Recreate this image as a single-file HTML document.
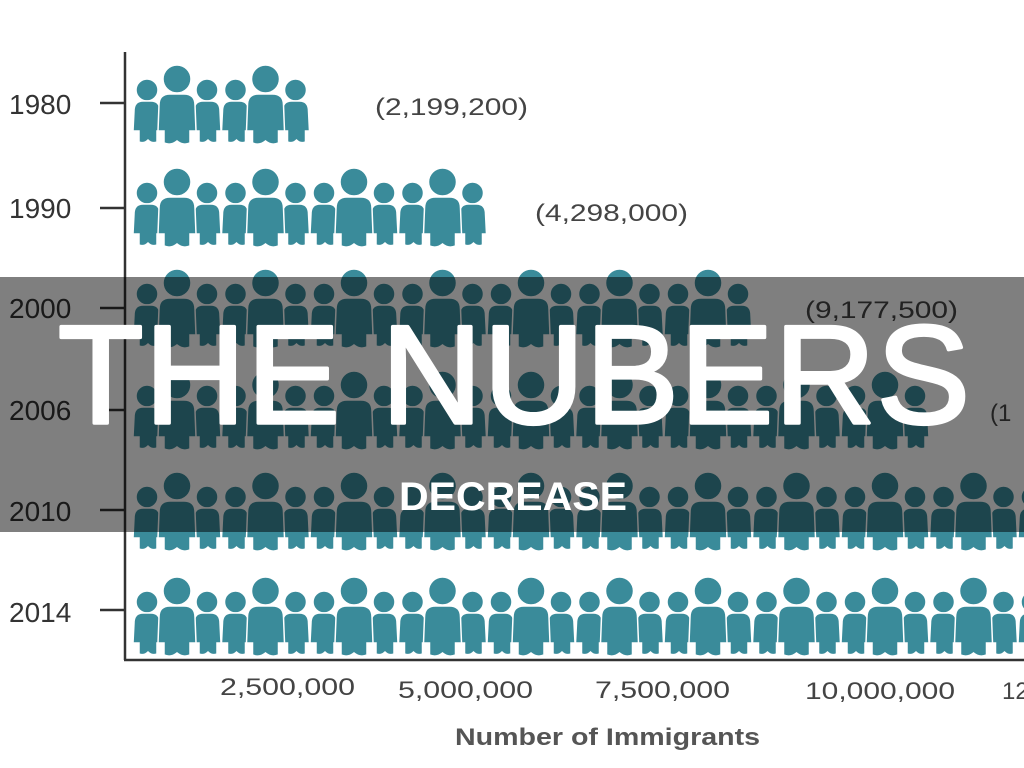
<!DOCTYPE html>
<html><head><meta charset="utf-8"><style>
html,body{margin:0;padding:0;background:#fff;width:1024px;height:768px;overflow:hidden}
svg{display:block}
</style></head><body>
<svg width="1024" height="768" viewBox="0 0 1024 768" xmlns="http://www.w3.org/2000/svg">
<defs>
<g id="g" fill="#3a8b9a" stroke="#fff" stroke-width="1.5">
  <path d="M26 54 L70 54 L70 64 L26 64 Z"/>
  <circle cx="17" cy="25" r="11"/>
  <path d="M4 46 Q4 36 13 36 L21 36 Q30 36 30 46 L31 66 L27 66 L27 77 Q22 79 18 75 Q14 79 9 77 L9 66 L3 66 Z"/>
  <circle cx="77" cy="25" r="11"/>
  <path d="M64 46 Q64 36 73 36 L81 36 Q90 36 90 46 L91 66 L87 66 L87 77 Q82 79 78 75 Q74 79 69 77 L69 66 L63 66 Z"/>
  <circle cx="47" cy="14" r="14"/>
  <path d="M29 40 Q29 29 40 29 L54 29 Q65 29 65 40 L66 66 L60 66 L60 78 Q53 81 47 76 Q41 81 34 78 L34 66 L28 66 Z"/>
</g>
</defs>
<g font-family="Liberation Sans, sans-serif" fill="#333" font-size="28">
<text x="9" y="114">1980</text>
<text x="9" y="218">1990</text>
<text x="9" y="318">2000</text>
<text x="9" y="420">2006</text>
<text x="9" y="521">2010</text>
<text x="9" y="622">2014</text>
</g>
<g stroke="#333" stroke-width="2.5">
<line x1="125" y1="52" x2="125" y2="660"/>
<line x1="124" y1="660" x2="1024" y2="660"/>
<line x1="100" y1="103" x2="125" y2="103"/>
<line x1="100" y1="208" x2="125" y2="208"/>
<line x1="100" y1="308" x2="125" y2="308"/>
<line x1="100" y1="410" x2="125" y2="410"/>
<line x1="100" y1="510" x2="125" y2="510"/>
<line x1="100" y1="610" x2="125" y2="610"/>
</g>
<g>
<use href="#g" x="130" y="65"/><use href="#g" x="218.5" y="65"/>

<use href="#g" x="130" y="168"/><use href="#g" x="218.5" y="168"/><use href="#g" x="307" y="168"/><use href="#g" x="395.5" y="168"/>

<use href="#g" x="130" y="269"/><use href="#g" x="218.5" y="269"/><use href="#g" x="307" y="269"/><use href="#g" x="395.5" y="269"/><use href="#g" x="484" y="269"/><use href="#g" x="572.5" y="269"/><use href="#g" x="661" y="269"/>

<use href="#g" x="130" y="371"/><use href="#g" x="218.5" y="371"/><use href="#g" x="307" y="371"/><use href="#g" x="395.5" y="371"/><use href="#g" x="484" y="371"/><use href="#g" x="572.5" y="371"/><use href="#g" x="661" y="371"/><use href="#g" x="749.5" y="371"/><use href="#g" x="838" y="371"/>

<use href="#g" x="130" y="472"/><use href="#g" x="218.5" y="472"/><use href="#g" x="307" y="472"/><use href="#g" x="395.5" y="472"/><use href="#g" x="484" y="472"/><use href="#g" x="572.5" y="472"/><use href="#g" x="661" y="472"/><use href="#g" x="749.5" y="472"/><use href="#g" x="838" y="472"/><use href="#g" x="926.5" y="472"/><use href="#g" x="1015" y="472"/>

<use href="#g" x="130" y="577"/><use href="#g" x="218.5" y="577"/><use href="#g" x="307" y="577"/><use href="#g" x="395.5" y="577"/><use href="#g" x="484" y="577"/><use href="#g" x="572.5" y="577"/><use href="#g" x="661" y="577"/><use href="#g" x="749.5" y="577"/><use href="#g" x="838" y="577"/><use href="#g" x="926.5" y="577"/><use href="#g" x="1015" y="577"/>
</g>
<g font-family="Liberation Sans, sans-serif" fill="#444" font-size="24">
<text x="375" y="115" textLength="153" lengthAdjust="spacingAndGlyphs">(2,199,200)</text>
<text x="535" y="221" textLength="153" lengthAdjust="spacingAndGlyphs">(4,298,000)</text>
<text x="805" y="318" textLength="153" lengthAdjust="spacingAndGlyphs">(9,177,500)</text>
<text x="990" y="421">(1</text>
<text x="220" y="695" textLength="135" lengthAdjust="spacingAndGlyphs">2,500,000</text>
<text x="398" y="698" textLength="135" lengthAdjust="spacingAndGlyphs">5,000,000</text>
<text x="595" y="698" textLength="135" lengthAdjust="spacingAndGlyphs">7,500,000</text>
<text x="805" y="699" textLength="150" lengthAdjust="spacingAndGlyphs">10,000,000</text>
<text x="1002" y="699">12</text>
<text x="455" y="745" font-weight="bold" fill="#555" textLength="305" lengthAdjust="spacingAndGlyphs">Number of Immigrants</text>
</g>
<rect x="0" y="277" width="1024" height="255" fill="rgba(0,0,0,0.5)"/>
<text x="58" y="423" font-family="Liberation Sans, sans-serif" font-size="140" fill="#fff" stroke="#fff" stroke-width="3.5" stroke-linejoin="round" textLength="912" lengthAdjust="spacing">THE NUBERS</text>
<text x="399" y="510" font-family="Liberation Sans, sans-serif" font-size="40" font-weight="bold" fill="#fff" textLength="228" lengthAdjust="spacingAndGlyphs">DECREASE</text>
</svg>
</body></html>
